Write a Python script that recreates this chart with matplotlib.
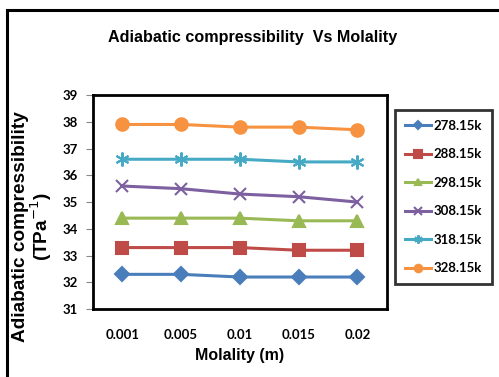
import matplotlib.pyplot as plt
from matplotlib.patches import Rectangle

# data
molality = ['0.001', '0.005', '0.01', '0.015', '0.02']
temps = ['278.15k', '288.15k', '298.15k', '308.15k', '318.15k', '328.15k']
k278 = [32.3, 32.3, 32.2, 32.2, 32.2]
k288 = [33.3, 33.3, 33.3, 33.2, 33.2]
k298 = [34.4, 34.4, 34.4, 34.3, 34.3]
k308 = [35.6, 35.5, 35.3, 35.2, 35.0]
k318 = [36.6, 36.6, 36.6, 36.5, 36.5]
k328 = [37.9, 37.9, 37.8, 37.8, 37.7]

series = [k278, k288, k298, k308, k318, k328]
colors = ['#4A7EBB', '#BE4B48', '#98B954', '#7D60A0', '#46AAC5', '#F69240']
markers = ['D', 's', '^', 'x', (6, 2, 0), 'o']
msizes = [7, 9, 8, 9, 10, 9]

calib = ['Lato', 'DejaVu Sans']
arial = ['Liberation Sans', 'DejaVu Sans']

fig = plt.figure(figsize=(4.99, 3.77), dpi=100)
fig.patches.append(Rectangle((7 / 499, -0.1), 1.0, 1 - 10 / 377 + 0.1,
                             transform=fig.transFigure, fill=False,
                             edgecolor='black', linewidth=2.2))

ax = fig.add_axes([0.186, 0.180, 0.589, 0.568])
x = range(len(molality))
for vals, c, m, ms, lab in zip(series, colors, markers, msizes, temps):
    ax.plot(x, vals, color=c, marker=m, markersize=ms, linewidth=2.2,
            markeredgewidth=1.5, label=lab)

ax.set_xlim(-0.5, len(molality) - 0.5)
ax.set_ylim(31, 39)
ax.set_yticks(range(31, 40))
ax.set_xticks(list(x))
ax.set_xticklabels(molality)
for sp in ax.spines.values():
    sp.set_linewidth(2)
ax.tick_params(axis='x', length=0, pad=14)
ax.tick_params(axis='y', length=5, color='#888888', pad=6)
for t in ax.get_xticklabels() + ax.get_yticklabels():
    t.set_family(calib)
    t.set_fontweight('bold')
    t.set_fontsize(9.5)

ax.set_xlabel('Molality (m)', family=arial, fontweight='bold', fontsize=11.5, labelpad=5)
fig.text(0.066, 0.398, 'Adiabatic compressibility\n(TPa$^{-1}$)', rotation=90,
         ha='center', va='center', fontsize=13.7, fontweight='bold',
         family=arial, linespacing=0.95)
fig.text(0.507, 0.9, 'Adiabatic compressibility  Vs Molality', ha='center',
         va='center', family=arial, fontweight='bold', fontsize=11.6)

leg = fig.legend(loc='upper left', bbox_to_anchor=(395 / 499, 1 - 110 / 377),
                 frameon=True, fancybox=False, edgecolor='black',
                 prop={'family': calib, 'weight': 'bold', 'size': 9.5},
                 handlelength=2.0, handletextpad=0.2, labelspacing=1.25,
                 borderpad=0.75, borderaxespad=0, markerscale=0.6)
leg.get_frame().set_linewidth(2)

fig.savefig('out.png', dpi=100)
